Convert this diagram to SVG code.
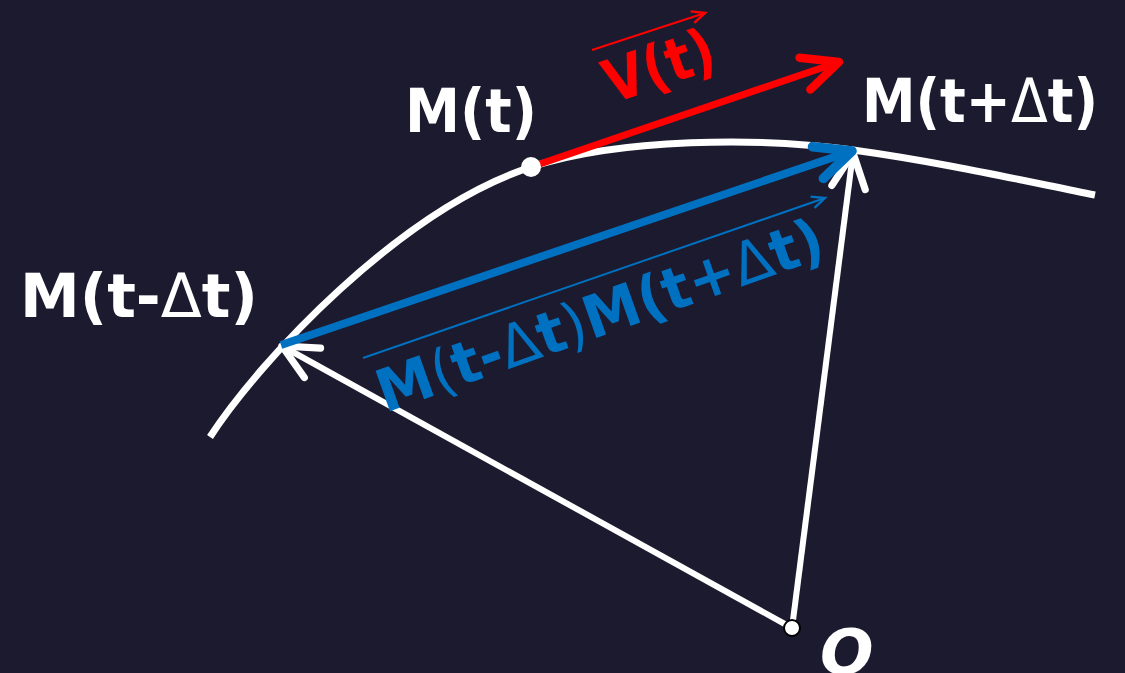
<svg xmlns="http://www.w3.org/2000/svg" width="1125" height="673" viewBox="0 0 1125 673">
  <style>
    .lbl { font-family: "DejaVu Sans", "Liberation Sans", sans-serif; font-weight: bold; }
    .thin { font-weight: normal; }
    .w { fill: #ffffff; }
    .r { fill: #ff0000; }
    .b { fill: #0070c0; }
    .curve { fill: none; stroke: #ffffff; stroke-width: 7; stroke-linecap: butt; }
    .vec { fill: none; stroke-linecap: butt; }
  </style>
  <defs>
    <marker id="ahRed" markerUnits="userSpaceOnUse" markerWidth="60" markerHeight="60" refX="0" refY="0" viewBox="-40 -25 50 50" orient="auto" overflow="visible">
      <path d="M-30,-14 L0,0 L-30,14" fill="none" stroke="#ff0000" stroke-width="7" stroke-linecap="round" stroke-linejoin="round"/>
    </marker>
    <marker id="ahBlue" markerUnits="userSpaceOnUse" markerWidth="60" markerHeight="60" refX="0" refY="0" viewBox="-40 -25 50 50" orient="auto" overflow="visible">
      <path d="M-30,-14 L0,0 L-30,14" fill="none" stroke="#0070c0" stroke-width="8" stroke-linecap="round" stroke-linejoin="round"/>
    </marker>
    <marker id="ahWhite" markerUnits="userSpaceOnUse" markerWidth="60" markerHeight="60" refX="0" refY="0" viewBox="-40 -25 50 50" orient="auto" overflow="visible">
      <path d="M-29,-14 L0,0 L-29,14" fill="none" stroke="#ffffff" stroke-width="6" stroke-linecap="round" stroke-linejoin="round"/>
    </marker>
    <marker id="ahSmallRed" markerUnits="userSpaceOnUse" markerWidth="30" markerHeight="30" refX="0" refY="0" viewBox="-20 -10 25 20" orient="auto" overflow="visible">
      <path d="M-11,-5 L0,0 L-11,5" fill="none" stroke="#ff0000" stroke-width="2"/>
    </marker>
    <marker id="ahSmallBlue" markerUnits="userSpaceOnUse" markerWidth="30" markerHeight="30" refX="0" refY="0" viewBox="-20 -10 25 20" orient="auto" overflow="visible">
      <path d="M-11,-5 L0,0 L-11,5" fill="none" stroke="#0070c0" stroke-width="2"/>
    </marker>
  </defs>

  <rect width="1125" height="673" fill="#1c1a2e"/>

  <g id="trajectory">
    <path class="curve" d="M210,437 C260,360 400,210 531,167 C620,138 760,137 853,150 C940,162 1020,180 1095,195"/>
  </g>

  <g id="connectors">
    <line class="vec" x1="792" y1="628" x2="282" y2="346" stroke="#ffffff" stroke-width="6" marker-end="url(#ahWhite)"/>
    <line class="vec" x1="792" y1="628" x2="853" y2="153" stroke="#ffffff" stroke-width="6" marker-end="url(#ahWhite)"/>
    <line class="vec" x1="281" y1="345" x2="852" y2="151" stroke="#0070c0" stroke-width="8" marker-end="url(#ahBlue)"/>
    <line class="vec" x1="531" y1="167" x2="839" y2="62" stroke="#ff0000" stroke-width="7" marker-end="url(#ahRed)"/>
    <line x1="592" y1="50" x2="705" y2="13" stroke="#ff0000" stroke-width="2" marker-end="url(#ahSmallRed)"/>
    <line x1="363" y1="358" x2="825" y2="198" stroke="#0070c0" stroke-width="2" marker-end="url(#ahSmallBlue)"/>
  </g>

  <g id="node-Mt">
    <circle cx="531" cy="167" r="10" fill="#ffffff"/>
    <text class="lbl w" x="405" y="132" font-size="61" textLength="132" lengthAdjust="spacingAndGlyphs">M(t)</text>
  </g>

  <g id="node-Mtplus">
    <text class="lbl w" x="862" y="122" font-size="61" textLength="236" lengthAdjust="spacingAndGlyphs">M(t+<tspan class="thin">Δ</tspan>t)</text>
  </g>

  <g id="node-Mtminus">
    <text class="lbl w" x="20" y="317" font-size="61" textLength="238" lengthAdjust="spacingAndGlyphs">M(t-<tspan class="thin">Δ</tspan>t)</text>
  </g>

  <g id="node-O">
    <circle cx="792" cy="628" r="8" fill="#ffffff" stroke="#000000" stroke-width="2"/>
    <text class="lbl w" x="820" y="674" font-size="63" font-style="italic">O</text>
  </g>

  <g id="label-V">
    <text class="lbl r" transform="translate(612,104) rotate(-19)" font-size="60" textLength="114" lengthAdjust="spacingAndGlyphs">V(t)</text>
  </g>

  <g id="label-MM">
    <text class="lbl b" transform="translate(385,413) rotate(-19.5)" font-size="59" textLength="470" lengthAdjust="spacingAndGlyphs">M<tspan class="thin">(</tspan>t-<tspan class="thin">Δ</tspan>t<tspan class="thin">)</tspan>M(t+<tspan class="thin">Δ</tspan>t)</text>
  </g>
</svg>
